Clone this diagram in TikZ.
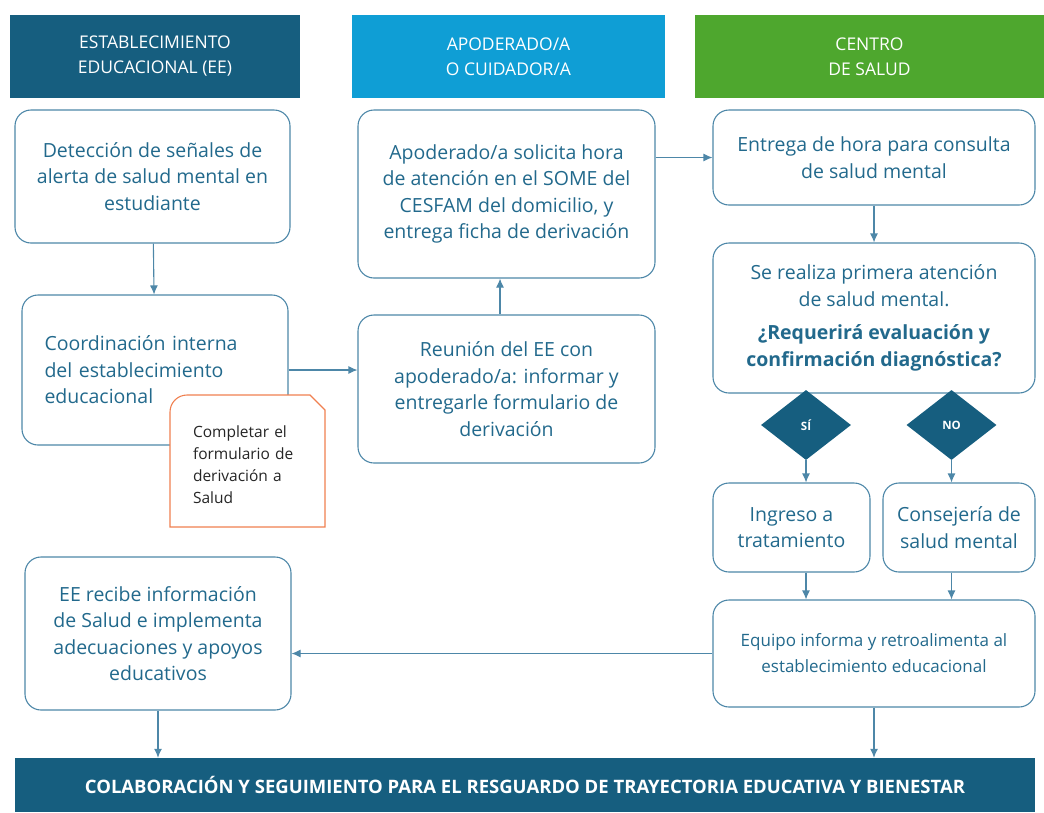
\documentclass[tikz,border=0pt]{standalone}
\usepackage{fontspec}
\setmainfont{Open Sans}
\usetikzlibrary{shapes.geometric,arrows.meta}
\definecolor{eeblue}{HTML}{165E7F}
\definecolor{apblue}{HTML}{0F9ED5}
\definecolor{csgreen}{HTML}{4EA72E}
\definecolor{linecol}{HTML}{4D87A8}
\definecolor{txtcol}{HTML}{22698C}
\definecolor{notecol}{HTML}{F08050}
\tikzset{
  head/.style={fill=#1, text=white, minimum height=83pt, align=center,
    font=\fontsize{17.5}{25}\selectfont, inner sep=0pt},
  stepbox/.style={draw=linecol, line width=1.1pt, rounded corners=16pt, text=txtcol,
    align=center, inner sep=0pt, font=\fontsize{19.5}{26.5}\selectfont},
  choice/.style={diamond, fill=eeblue, text=white, aspect=1.3, inner sep=0pt,
    minimum width=90pt, minimum height=70pt, font=\bfseries\fontsize{11.5}{13}\selectfont},
  link/.style={draw=linecol, line width=1.1pt, -{Latex[length=9pt,width=8pt]}}
}
\begin{document}
\begin{tikzpicture}[x=1pt, y=-1pt]
\useasboundingbox (0,0) rectangle (1044,812);

% cabeceras
\node[head=eeblue, minimum width=290pt] (hee) at (155,56.5) {ESTABLECIMIENTO\\EDUCACIONAL (EE)};
\node[head=apblue, minimum width=313pt] (hap) at (508.5,56.5) {APODERADO/A\\O CUIDADOR/A};
\node[head=csgreen, minimum width=349pt] (hcs) at (869.5,56.5) {CENTRO\\DE SALUD};

% establecimiento
\node[stepbox, minimum width=275pt, minimum height=133pt] (det) at (152.5,176.5)
  {Detección de señales de\\alerta de salud mental en\\estudiante};
\node[stepbox, minimum width=266pt, minimum height=150pt, text width=221pt, align=left] (coord) at (155,370)
  {Coordinación interna\\del establecimiento\\educacional\\[20pt]};
\node[stepbox, minimum width=266pt, minimum height=153pt] (recibe) at (158,633.5)
  {EE recibe información\\de Salud e implementa\\adecuaciones y apoyos\\educativos};

% nota
\draw[notecol, line width=1.1pt, fill=white] (170,527) -- (170,412) arc[start angle=180, end angle=270, radius=17]
  -- (310,395) -- (325,410) -- (325,527) -- cycle;
\node[text width=122pt, align=left, inner sep=0pt, text=black!85, font=\fontsize{15.5}{22}\selectfont] (nota) at (254,465)
  {Completar el\\formulario de\\derivación a\\Salud};

% apoderado
\node[stepbox, minimum width=297pt, minimum height=168pt] (apod) at (506.5,194)
  {Apoderado/a solicita hora\\de atención en el SOME del\\CESFAM del domicilio, y\\entrega ficha de derivación};
\node[stepbox, minimum width=297pt, minimum height=148pt] (reun) at (506.5,389)
  {Reunión del EE con\\apoderado/a: informar y\\entregarle formulario de\\derivación};

% centro de salud
\node[stepbox, minimum width=322pt, minimum height=95pt] (entr) at (874,157.5)
  {Entrega de hora para consulta\\de salud mental};
\node[stepbox, minimum width=322pt, minimum height=150pt] (prim) at (874,318)
  {Se realiza primera atención\\de salud mental.\\[7pt]\textbf{¿Requerirá evaluación y}\\\textbf{confirmación diagnóstica?}};
\node[choice] (si) at (806,425) {SÍ};
\node[choice] (no) at (951.5,425) {NO};
\node[stepbox, minimum width=157pt, minimum height=89pt] (ingr) at (791.5,527.5)
  {Ingreso a\\tratamiento};
\node[stepbox, minimum width=152pt, minimum height=89pt] (cons) at (959,527.5)
  {Consejería de\\salud mental};
\node[stepbox, minimum width=322pt, minimum height=107pt, font=\fontsize{17}{26}\selectfont] (equi) at (874,653.5)
  {Equipo informa y retroalimenta al\\establecimiento educacional};

% barra final
\node[fill=eeblue, text=white, minimum width=1020pt, minimum height=54pt, inner sep=0pt,
  font=\bfseries\fontsize{18.5}{20}\selectfont] (bar) at (525,785)
  {COLABORACIÓN Y SEGUIMIENTO PARA EL RESGUARDO DE TRAYECTORIA EDUCATIVA Y BIENESTAR};

% flechas
\draw[link] (det) -- (coord);
\draw[link] (coord.east) -- (coord.east -| reun.west);
\draw[link] (reun.north -| 500,0) -- (apod.south -| 500,0);
\draw[link] (apod.east |- entr) -- (entr.west);
\draw[link] (entr) -- (prim);
\draw[link] (si.south) -- (si.south |- ingr.north);
\draw[link] (no.south) -- (no.south |- cons.north);
\draw[link] (si |- ingr.south) -- (si |- equi.north);
\draw[link] (no |- cons.south) -- (no |- equi.north);
\draw[link] (equi.west) -- (equi.west -| recibe.east);
\draw[link] (recibe.south) -- (recibe.south |- bar.north);
\draw[link] (equi.south) -- (equi.south |- bar.north);

\end{tikzpicture}
\end{document}
